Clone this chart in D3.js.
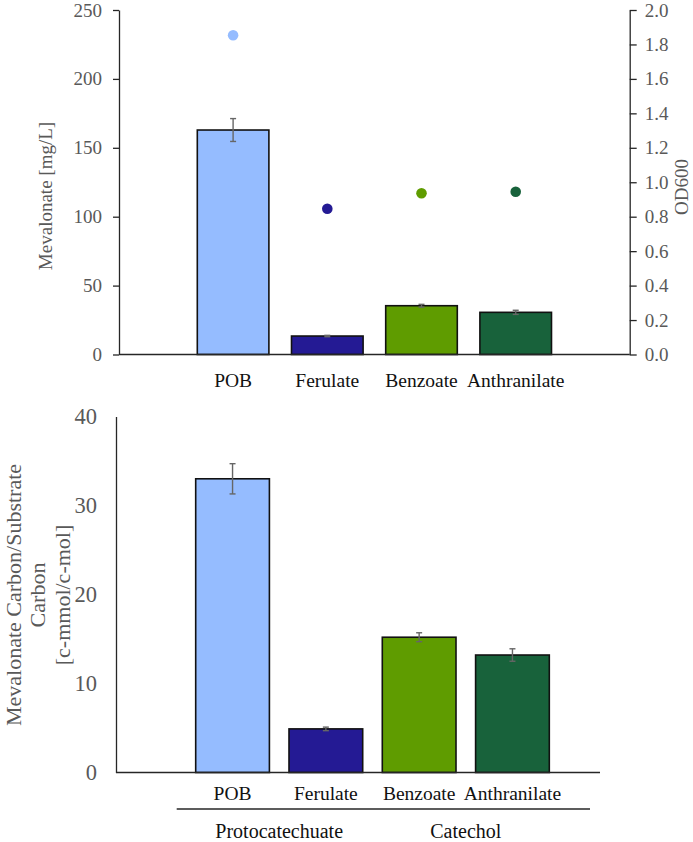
<!DOCTYPE html>
<html>
<head>
<meta charset="utf-8">
<script src="https://cdn.jsdelivr.net/npm/d3@7"></script>
<style>
  body { margin: 0; background: #fff; }
  svg text { font-family: "Liberation Serif", "Times New Roman", serif; }
</style>
</head>
<body>
<div id="chart"></div>
<script>
// data
let substrates   = ['POB', 'Ferulate', 'Benzoate', 'Anthranilate'];
let barColors    = ['#95bcff', '#241a94', '#5f9c00', '#18623b'];
let mevTiter     = [162.9, 13.4, 35.4, 30.6];      // mg/L
let mevTiterErr  = [8.3, 0.5, 1.0, 1.5];
let od600        = [1.853, 0.846, 0.936, 0.945];
let carbonYield  = [33.0, 4.9, 15.2, 13.2];        // c-mmol/c-mol
let carbonYieldErr = [1.7, 0.2, 0.5, 0.7];
let groups       = [
  {name: 'Protocatechuate', members: ['POB', 'Ferulate']},
  {name: 'Catechol', members: ['Benzoate', 'Anthranilate']}
];
let topTicks   = [0, 50, 100, 150, 200, 250];
let odTicks    = [0, 0.2, 0.4, 0.6, 0.8, 1.0, 1.2, 1.4, 1.6, 1.8, 2.0];
let yieldTicks = [0, 10, 20, 30, 40];

let chart_width = 693, chart_height = 842;
let axisColor = '#262626';
let labelColor = '#595959';

let svg = d3.select('#chart')
  .append('svg')
  .attr('width', chart_width)
  .attr('height', chart_height);

function styleAxis(g, size) {
  g.selectAll('path.domain').attr('stroke', axisColor).attr('stroke-width', 1.3);
  g.selectAll('.tick line').attr('stroke', axisColor).attr('stroke-width', 1.3);
  g.selectAll('.tick text')
    .attr('fill', labelColor)
    .style('font-size', size + 'px')
    .style('font-family', '"Liberation Serif", serif');
}

// ---------- top panel ----------
let p1 = {left: 119, right: 629.7, top: 10, bottom: 354.5};

let x1 = d3.scaleBand()
  .domain(substrates)
  .range([186, 562.8])
  .paddingInner(0.24)
  .paddingOuter(0.12);

let y1 = d3.scaleLinear().domain([0, 250]).range([p1.bottom, p1.top]);
let yOd = d3.scaleLinear().domain([0, 2]).range([p1.bottom, p1.top]);

let g1 = svg.append('g');

g1.selectAll('rect.bar')
  .data(substrates)
  .enter()
  .append('rect')
  .attr('class', 'bar')
  .attr('x', d => x1(d))
  .attr('y', (d, i) => y1(mevTiter[i]))
  .attr('width', x1.bandwidth())
  .attr('height', (d, i) => y1(0) - y1(mevTiter[i]))
  .attr('fill', (d, i) => barColors[i])
  .attr('stroke', '#111')
  .attr('stroke-width', 1.6);

function errorBars(g, xs, ys, vals, errs) {
  let eb = g.selectAll(null)
    .data(substrates)
    .enter()
    .append('g')
    .attr('stroke', '#666')
    .attr('stroke-width', 1.4);
  eb.append('line')
    .attr('x1', d => xs(d) + xs.bandwidth() / 2)
    .attr('x2', d => xs(d) + xs.bandwidth() / 2)
    .attr('y1', (d, i) => ys(vals[i] - errs[i]))
    .attr('y2', (d, i) => ys(vals[i] + errs[i]));
  [-1, 1].forEach(s => {
    eb.append('line')
      .attr('x1', d => xs(d) + xs.bandwidth() / 2 - 3)
      .attr('x2', d => xs(d) + xs.bandwidth() / 2 + 3)
      .attr('y1', (d, i) => ys(vals[i] + s * errs[i]))
      .attr('y2', (d, i) => ys(vals[i] + s * errs[i]));
  });
}
errorBars(g1, x1, y1, mevTiter, mevTiterErr);

g1.selectAll('circle')
  .data(substrates)
  .enter()
  .append('circle')
  .attr('cx', d => x1(d) + x1.bandwidth() / 2)
  .attr('cy', (d, i) => yOd(od600[i]))
  .attr('r', 5.3)
  .attr('fill', (d, i) => barColors[i]);

// x axis line
g1.append('line')
  .attr('x1', p1.left).attr('x2', p1.right)
  .attr('y1', p1.bottom).attr('y2', p1.bottom)
  .attr('stroke', axisColor).attr('stroke-width', 1.3);

g1.selectAll('text.cat')
  .data(substrates)
  .enter()
  .append('text')
  .attr('class', 'cat')
  .attr('x', d => x1(d) + x1.bandwidth() / 2)
  .attr('y', 387)
  .attr('text-anchor', 'middle')
  .attr('fill', '#111')
  .style('font-size', '19.5px')
  .text(d => d);

let yAxis1 = d3.axisLeft(y1)
  .tickValues(topTicks)
  .tickSizeInner(6)
  .tickSizeOuter(0)
  .tickPadding(11);
g1.append('g')
  .attr('transform', 'translate(' + p1.left + ',0)')
  .call(yAxis1)
  .call(g => styleAxis(g, 19));

let odAxis = d3.axisRight(yOd)
  .tickValues(odTicks)
  .tickFormat(d3.format('.1f'))
  .tickSizeInner(7)
  .tickSizeOuter(0)
  .tickPadding(8);
g1.append('g')
  .attr('transform', 'translate(' + p1.right + ',0)')
  .call(odAxis)
  .call(g => styleAxis(g, 19));

g1.append('text')
  .attr('transform', 'translate(52,196) rotate(-90)')
  .attr('text-anchor', 'middle')
  .attr('fill', labelColor)
  .style('font-size', '19px')
  .text('Mevalonate [mg/L]');

g1.append('text')
  .attr('transform', 'translate(688,187) rotate(-90)')
  .attr('text-anchor', 'middle')
  .attr('fill', labelColor)
  .style('font-size', '19px')
  .text('OD600');

// ---------- bottom panel ----------
let p2 = {left: 116, right: 600, top: 416.5, bottom: 772.5};

let x2 = d3.scaleBand()
  .domain(substrates)
  .range([185.9, 559.1])
  .paddingInner(0.21)
  .paddingOuter(0.105);

let y2 = d3.scaleLinear().domain([0, 40]).range([p2.bottom, p2.top]);

let g2 = svg.append('g');

g2.selectAll('rect.bar')
  .data(substrates)
  .enter()
  .append('rect')
  .attr('class', 'bar')
  .attr('x', d => x2(d))
  .attr('y', (d, i) => y2(carbonYield[i]))
  .attr('width', x2.bandwidth())
  .attr('height', (d, i) => y2(0) - y2(carbonYield[i]))
  .attr('fill', (d, i) => barColors[i])
  .attr('stroke', '#111')
  .attr('stroke-width', 1.6);

errorBars(g2, x2, y2, carbonYield, carbonYieldErr);

g2.append('line')
  .attr('x1', p2.left).attr('x2', p2.right)
  .attr('y1', p2.bottom).attr('y2', p2.bottom)
  .attr('stroke', axisColor).attr('stroke-width', 1.3);

let yAxis2 = d3.axisLeft(y2)
  .tickValues(yieldTicks)
  .tickSize(0)
  .tickPadding(19);
g2.append('g')
  .attr('transform', 'translate(' + p2.left + ',0)')
  .call(yAxis2)
  .call(g => styleAxis(g, 22.5));

g2.selectAll('text.cat')
  .data(substrates)
  .enter()
  .append('text')
  .attr('class', 'cat')
  .attr('x', d => x2(d) + x2.bandwidth() / 2)
  .attr('y', 800)
  .attr('text-anchor', 'middle')
  .attr('fill', '#111')
  .style('font-size', '19.5px')
  .text(d => d);

// group bracket line and labels
g2.append('line')
  .attr('x1', 176.7).attr('x2', 590)
  .attr('y1', 809).attr('y2', 809)
  .attr('stroke', axisColor).attr('stroke-width', 1.3);

g2.selectAll('text.group')
  .data(groups)
  .enter()
  .append('text')
  .attr('class', 'group')
  .attr('x', d => {
    let a = x2(d.members[0]) + x2.bandwidth() / 2;
    let b = x2(d.members[1]) + x2.bandwidth() / 2;
    return (a + b) / 2;
  })
  .attr('y', 838)
  .attr('text-anchor', 'middle')
  .attr('fill', '#111')
  .style('font-size', '20px')
  .text(d => d.name);

let yTitle = ['Mevalonate Carbon/Substrate', 'Carbon', '[c-mmol/c-mol]'];
g2.selectAll('text.ytitle')
  .data(yTitle)
  .enter()
  .append('text')
  .attr('class', 'ytitle')
  .attr('transform', (d, i) => 'translate(' + (20.5 + i * 24.5) + ',595) rotate(-90)')
  .attr('text-anchor', 'middle')
  .attr('fill', labelColor)
  .style('font-size', '22px')
  .text(d => d);
</script>
</body>
</html>
